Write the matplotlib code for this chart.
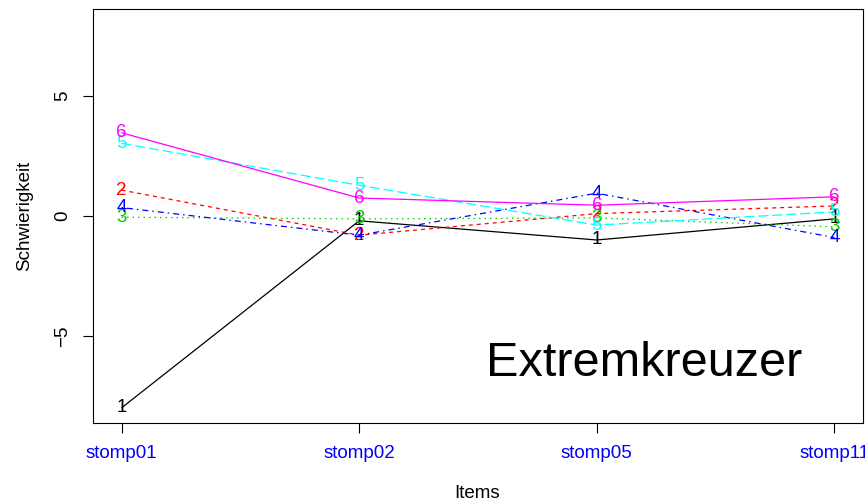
import numpy as np
import matplotlib
matplotlib.use('Agg')
import matplotlib.pyplot as plt

plt.rcParams['font.family'] = ['Liberation Sans', 'DejaVu Sans']
plt.rcParams['lines.scale_dashes'] = False

# daten
items = ['stomp01', 'stomp02', 'stomp05', 'stomp11']
s1 = [-8.0, -0.2, -1.0, -0.12]
s2 = [1.08, -0.8, 0.1, 0.42]
s3 = [-0.05, -0.12, -0.08, -0.45]
s4 = [0.35, -0.8, 0.95, -0.9]
s5 = [3.03, 1.28, -0.38, 0.17]
s6 = [3.47, 0.75, 0.45, 0.8]
serien = [s1, s2, s3, s4, s5, s6]
labels = ['1', '2', '3', '4', '5', '6']

# R matplot farben und linientypen (lty 1:5, dann wieder 1)
farben = ['black', '#FF0000', '#00CD00', '#0000FF', '#00FFFF', '#FF00FF']
px = 0.72
stile = [(0, ()), (0, (4*px, 4*px)), (0, (1.5*px, 4*px)),
         (0, (1.5*px, 4*px, 6*px, 4*px)), (0, (10*px, 4*px)), (0, ())]

fig = plt.figure(figsize=(8.65, 5.03), dpi=100)
W, H = 865, 503
ax = fig.add_axes([93/W, (H-423)/H, (863-93)/W, (423-9)/H])

x = np.arange(1, len(items)+1)
for i, (y, lab) in enumerate(zip(serien, labels)):
    ax.plot(x, y, color=farben[i], linestyle=stile[i], linewidth=0.9,
            zorder=2+i)
    for xi, yi in zip(x, y):
        ax.text(xi, yi, lab, color=farben[i], fontsize=13.5,
                ha='center', va='center', zorder=2+i)

ax.text(3.2, -6.17, 'Extremkreuzer', fontsize=35, ha='center', va='center')

ax.set_xlim(0.88, 4.12)
ax.set_ylim(-8.63, 8.63)
ax.set_xticks(x)
ax.set_xticklabels(items, color='#0000FF', fontsize=13.5)
ax.set_yticks([-5, 0, 5])
ax.set_yticklabels(['\u22125', '0', '5'], fontsize=13.5, rotation=90,
                   va='center')
ax.tick_params(axis='both', length=7, width=0.8, direction='out')
ax.tick_params(axis='x', pad=9)
ax.tick_params(axis='y', pad=9)
for sp in ax.spines.values():
    sp.set_linewidth(0.8)

fig.text(477/W, 1-493/H, 'Items', fontsize=13.5, ha='center', va='center')
fig.text(25/W, 1-216/H, 'Schwierigkeit', fontsize=13.5, ha='center',
         va='center', rotation=90)

fig.savefig('out.png', dpi=100)
